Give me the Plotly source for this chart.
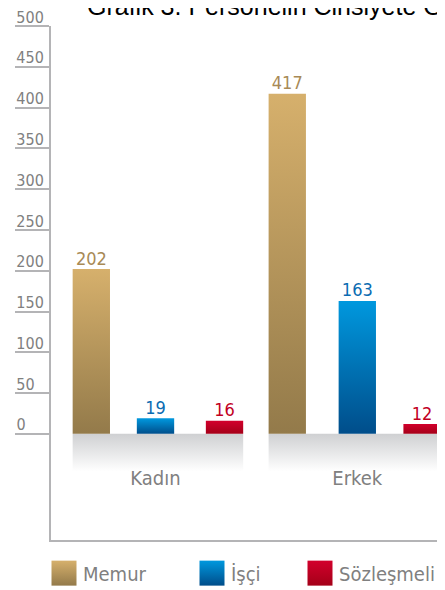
import plotly.graph_objects as go

# ---- data ----
categories = ["Kadın", "Erkek"]
series_names = ["Memur", "İşçi", "Sözleşmeli"]
memur = [202, 417]
isci = [19, 163]
sozlesmeli = [16, 12]
series_values = [memur, isci, sozlesmeli]
y_ticks = [0, 50, 100, 150, 200, 250, 300, 350, 400, 450, 500]
title_text = "Grafik 3. Personelin Cinsiyete Göre Dağılımı"

# ---- styles ----
grad_light = ["#d6b06c", "#0098de", "#d2002c"]
grad_dark = ["#937a4a", "#004d8a", "#a40018"]
label_colors = ["#a88a56", "#0b6cb2", "#c2001f"]
AXIS = "#b4b4b6"
GRAY_TXT = "#808080"
FONT = "DejaVu Sans Condensed, Noto Sans, DejaVu Sans"

# bar offsets (in category units) within each group
group_offsets = [[-0.318, 0.0, 0.342], [-0.347, 0.0, 0.321]]
bar_w = 0.185
band_depth = 46
W, H = 445, 590
mt, mb, ml = 15, 0, 43
plot_h = H - mt - mb
plot_w = W - ml
px_per_unit = 201.8
main_bottom = (H - 532) / plot_h
legend_h = H - 532


def tick_label(v):
    # left-align the tick labels (pad with no-break spaces, 2 per missing digit)
    s = str(v)
    return s + "\u00a0" * (2 * (3 - len(s)))


fig = go.Figure()

# gray reflection bands under each group
for g, cat in enumerate(categories):
    x0 = g + group_offsets[g][0] - bar_w / 2
    x1 = g + group_offsets[g][-1] + bar_w / 2
    fig.add_trace(go.Scatter(
        x=[x0, x1, x1, x0, x0], y=[0, 0, -band_depth, -band_depth, 0],
        mode="lines", line=dict(width=0), fill="toself",
        fillgradient=dict(type="vertical", colorscale=[[0, "rgba(255,255,255,1)"], [1, "#cfd0d2"]]),
        hoverinfo="skip", showlegend=False))

# bars with vertical gradient
for s, name in enumerate(series_names):
    for g, cat in enumerate(categories):
        v = series_values[s][g]
        c = g + group_offsets[g][s]
        fig.add_trace(go.Scatter(
            x=[c - bar_w / 2, c + bar_w / 2, c + bar_w / 2, c - bar_w / 2, c - bar_w / 2],
            y=[0, 0, v, v, 0],
            mode="lines", line=dict(width=0), fill="toself",
            fillgradient=dict(type="vertical",
                              colorscale=[[0, grad_dark[s]], [1, grad_light[s]]]),
            name=name, hoverinfo="name+y", showlegend=False))
    # value labels
    fig.add_trace(go.Scatter(
        x=[g + group_offsets[g][s] for g in range(len(categories))],
        y=series_values[s],
        mode="text", text=[str(v) for v in series_values[s]],
        textposition="top center",
        textfont=dict(family=FONT, size=18, color=label_colors[s]),
        hoverinfo="skip", showlegend=False))

# category labels
fig.add_trace(go.Scatter(
    x=list(range(len(categories))), y=[-57] * len(categories),
    mode="text", text=categories,
    textfont=dict(family=FONT, size=20, color=GRAY_TXT),
    hoverinfo="skip", showlegend=False))

# custom legend on its own axes
legend_x = [13, 161, 269]
for s, name in enumerate(series_names):
    fig.add_trace(go.Scatter(
        x=[legend_x[s]], y=[33], xaxis="x2", yaxis="y2",
        mode="markers",
        marker=dict(symbol="square", size=25, color=grad_light[s],
                    gradient=dict(type="vertical", color=grad_dark[s]),
                    line=dict(width=0)),
        hoverinfo="skip", showlegend=False, cliponaxis=False))
    fig.add_trace(go.Scatter(
        x=[legend_x[s] + 19], y=[36], xaxis="x2", yaxis="y2",
        mode="text", text=[name], textposition="middle right",
        textfont=dict(family=FONT, size=20, color=GRAY_TXT),
        hoverinfo="skip", showlegend=False, cliponaxis=False))

x_left = (51 - 155.5) / px_per_unit
fig.update_layout(
    width=W, height=H,
    margin=dict(l=ml, r=0, t=mt, b=mb),
    paper_bgcolor="white", plot_bgcolor="white",
    showlegend=False,
    xaxis=dict(range=[x_left, x_left + plot_w / px_per_unit], showgrid=False, zeroline=False,
               showticklabels=False, ticks="", showline=True,
               linecolor=AXIS, linewidth=2, anchor="y", fixedrange=True),
    yaxis=dict(domain=[main_bottom, 1], range=[-130.5, 500],
               tickvals=y_ticks, ticktext=[tick_label(t) for t in y_ticks],
               ticks="outside", ticklen=34, tickwidth=2, tickcolor=AXIS,
               tickfont=dict(family=FONT, size=16, color=GRAY_TXT),
               ticklabelshift=-9, ticklabelstandoff=-32,
               ticklabeloverflow="allow",
               showgrid=False, zeroline=False, showline=True,
               linecolor=AXIS, linewidth=2, anchor="x", fixedrange=True),
    xaxis2=dict(domain=[0, 1], range=[0, plot_w], anchor="y2", visible=False,
                fixedrange=True),
    yaxis2=dict(domain=[0, main_bottom], range=[legend_h, 0], anchor="x2",
                visible=False, fixedrange=True),
    annotations=[dict(
        text=title_text, xref="paper", yref="paper",
        x=(77 - ml) / plot_w, y=1 + (mt - 11) / plot_h,
        xanchor="left", yanchor="bottom", showarrow=False,
        font=dict(family="Liberation Sans", size=25, color="black"))],
)

fig.write_html("out.html")
